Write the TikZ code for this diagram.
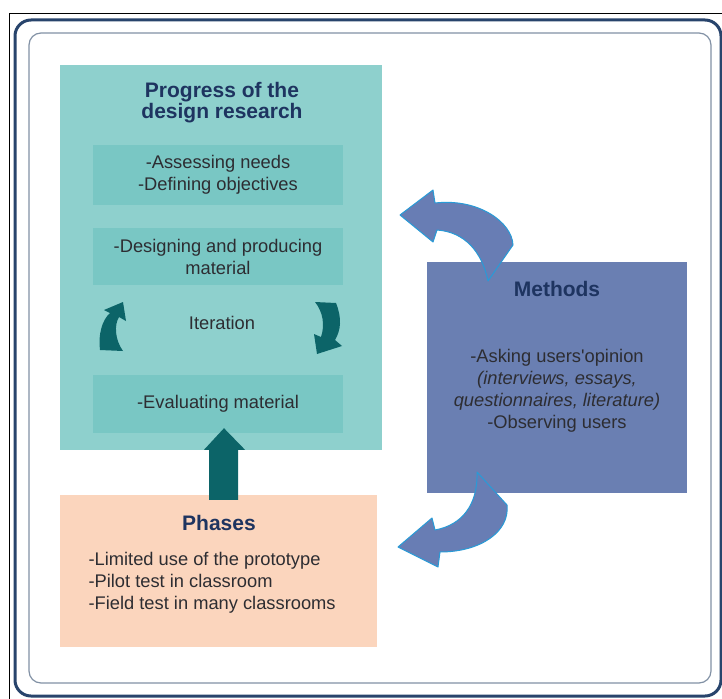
\documentclass[tikz,border=0pt]{standalone}
\usepackage{fontspec}
\setmainfont{Liberation Sans}
\usetikzlibrary{calc}
\definecolor{tealbg}{RGB}{142,208,205}
\definecolor{tealin}{RGB}{121,199,196}
\definecolor{darkteal}{RGB}{12,100,104}
\definecolor{methblue}{RGB}{106,127,178}
\definecolor{arrblue}{RGB}{104,125,180}
\definecolor{arredge}{RGB}{40,155,215}
\definecolor{peach}{RGB}{251,213,189}
\definecolor{navy}{RGB}{30,52,96}
\definecolor{txtgray}{RGB}{45,45,50}
\definecolor{frameblue}{RGB}{40,68,108}
\definecolor{framegray}{RGB}{130,145,165}
\begin{document}
\begin{tikzpicture}[x=1pt,y=-1pt,
    box/.style={inner sep=0pt,minimum width=#1},
    innerbox/.style={fill=tealin,inner sep=0pt,minimum width=250pt,text=txtgray,align=center,font=\fontsize{18.3}{22}\selectfont},
    titletext/.style={text=navy,align=center,font=\fontsize{21}{21}\bfseries},
    bodytext/.style={text=txtgray,font=\fontsize{18.3}{22}\selectfont},
    curvy/.style={fill=arrblue,draw=arredge,line width=1pt,line join=round},
    turn/.style={fill=darkteal}]
            \useasboundingbox (0,0) rectangle (722,698);
            \fill[white] (0,0) rectangle (722,698);
            \draw[black,line width=0.8pt] (9,13) rectangle (740,720);
            \draw[frameblue,line width=3pt,rounded corners=16pt] (15,20) rectangle (721,696);
            \draw[framegray,line width=1.2pt,rounded corners=12pt] (29,33) rectangle (711,683);
            \node[box=322pt,fill=tealbg,minimum height=385pt] (progress) at (221,257.5) {};
            \node[titletext] (progtitle) at (222,103) {Progress of the\\design research};
            \node[innerbox,minimum height=60pt] (needs) at (218,175) {-Assessing needs\\-Defining objectives};
            \node[innerbox,minimum height=57pt] (design) at (218,256.5) {-Designing and producing\\material};
            \node[bodytext] (iteration) at (222,323) {Iteration};
            \node[innerbox,minimum height=58pt] (evaluate) at (218,404) {-Evaluating material};
            \fill[turn] (100,350) .. controls (98,335) and (102,320) .. (110,313) -- (104,310) -- (123,302) -- (126,321) -- (119,317) .. controls (114,325) and (115,340) .. (123,351) -- cycle;
            \fill[turn] (315,302) -- (336,303) .. controls (342,318) and (341,330) .. (335,340) -- (342,346) -- (317,354) -- (314,334) -- (321,337) .. controls (325,325) and (323,312) .. (315,302) -- cycle;
            \node[box=317pt,fill=peach,minimum height=152pt] (phases) at (218.5,571) {};
            \node[titletext] (phasetitle) at (219,523) {Phases};
            \node[bodytext,align=left,anchor=west] (phaselist) at (85,583) {-Limited use of the prototype\\-Pilot test in classroom\\-Field test in many classrooms};
            \node[box=260pt,fill=methblue,minimum height=231pt] (methods) at (557,377.5) {};
            \node[titletext] (methtitle) at (557,289) {Methods};
            \node[bodytext,align=center] (methlist) at (557,391) {-Asking users\textquotesingle opinion\\\textit{(interviews, essays,}\\\textit{questionnaires, literature)}\\-Observing users};
            \coordinate (foot) at ($(phases.north)+(5,5)$);
            \coordinate (tip) at ($(evaluate.south)+(6,-5)$);
            \fill[darkteal] ($(foot)+(-14.5,0)$) -- ($(foot)+(-14.5,-50)$) -- ($(foot)+(-19.5,-50)$) -- (tip) -- ($(foot)+(21.5,-50)$) -- ($(foot)+(14.5,-50)$) -- ($(foot)+(14.5,0)$) -- cycle;
            \draw[curvy] (400,215) -- (433,190) -- (435,203) .. controls (478,198) and (512,222) .. (513,245) -- (488,281) .. controls (482,252) and (465,232) .. (437,230) -- (433,242) -- cycle;
            \draw[curvy] (398,547) -- (432,518) -- (435,530) .. controls (462,525) and (478,505) .. (477,472) -- (507,505) .. controls (510,532) and (480,552) .. (440,552) -- (438,567) -- cycle;
        \end{tikzpicture}
\end{document}
